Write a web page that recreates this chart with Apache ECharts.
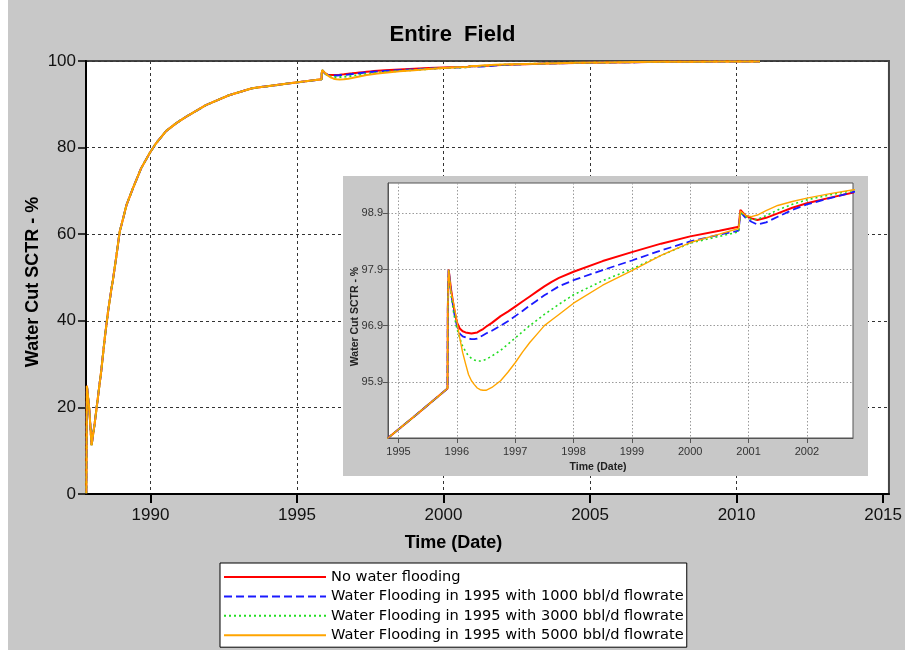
<!DOCTYPE html>
<html><head><meta charset="utf-8">
<script src="https://cdn.jsdelivr.net/npm/echarts@6/dist/echarts.min.js"></script>
<style>html,body{margin:0;padding:0;background:#c8c8c8}#c{width:905px;height:650px}</style>
</head><body><div id="c"></div><script>
const seriesNames = [
  'No water flooding',
  'Water Flooding in 1995 with 1000 bbl/d flowrate',
  'Water Flooding in 1995 with 3000 bbl/d flowrate',
  'Water Flooding in 1995 with 5000 bbl/d flowrate'
];
// shared history (all cases identical before water flooding starts)
const historyYears = [1987.81, 1987.83, 1987.91, 1987.99, 1988.1, 1988.16, 1988.33, 1988.44, 1988.55, 1988.67, 1988.72, 1988.84, 1988.95, 1989.01, 1989.18, 1989.4, 1989.68, 1989.97, 1990.19, 1990.53, 1990.87, 1991.21, 1991.89, 1992.68, 1993.47, 1994.82, 1995.3, 1995.84];
const historyValues = [0.2, 25, 19.8, 11.3, 16.5, 19.8, 29, 36, 42, 47.5, 49.5, 55.1, 60.6, 62.1, 66.7, 70.6, 75.2, 78.7, 81.0, 83.8, 85.6, 87.1, 89.8, 92.1, 93.7, 94.9, 95.31, 95.78];
// later period, per case
const laterYears = [1995.845, 1995.86, 1995.9, 1995.95, 1996.0, 1996.05, 1996.1, 1996.15, 1996.2, 1996.25, 1996.3, 1996.35, 1996.4, 1996.45, 1996.5, 1996.6, 1996.75, 1996.875, 1997.0, 1997.125, 1997.25, 1997.375, 1997.5, 1997.625, 1997.75, 1998.0, 1998.5, 1999.0, 1999.5, 2000.0, 2000.5, 2000.83, 2000.86, 2000.95, 2001.05, 2001.15, 2001.3, 2001.5, 2001.75, 2002.0, 2002.4, 2002.8, 2003.5, 2004.5, 2005.5, 2006.5, 2007.5, 2008.5, 2009.5, 2010.8];
const noFloodValues = [97.2, 97.9, 97.55, 97.22, 96.96, 96.85, 96.8, 96.78, 96.77, 96.76, 96.77, 96.78, 96.81, 96.84, 96.88, 96.95, 97.07, 97.15, 97.24, 97.33, 97.42, 97.51, 97.6, 97.68, 97.75, 97.86, 98.05, 98.21, 98.36, 98.49, 98.59, 98.66, 98.96, 98.86, 98.81, 98.78, 98.82, 98.9, 99.0, 99.08, 99.18, 99.27, 99.42, 99.56, 99.66, 99.74, 99.8, 99.84, 99.88, 99.9];
const flood1000Values = [97.2, 97.9, 97.5, 97.15, 96.9, 96.76, 96.71, 96.69, 96.67, 96.66, 96.66, 96.67, 96.7, 96.73, 96.76, 96.81, 96.9, 96.98, 97.07, 97.16, 97.26, 97.35, 97.44, 97.52, 97.6, 97.71, 97.89, 98.06, 98.24, 98.4, 98.52, 98.59, 98.92, 98.82, 98.75, 98.7, 98.74, 98.84, 98.96, 99.06, 99.17, 99.28, 99.42, 99.55, 99.65, 99.73, 99.79, 99.84, 99.87, 99.9];
const flood3000Values = [97.2, 97.9, 97.45, 97.1, 96.85, 96.68, 96.53, 96.44, 96.36, 96.32, 96.29, 96.27, 96.27, 96.28, 96.3, 96.36, 96.46, 96.57, 96.68, 96.79, 96.9, 97.0, 97.1, 97.19, 97.28, 97.45, 97.7, 97.91, 98.15, 98.37, 98.49, 98.57, 98.92, 98.84, 98.79, 98.79, 98.86, 98.96, 99.06, 99.14, 99.23, 99.31, 99.44, 99.57, 99.66, 99.74, 99.8, 99.84, 99.87, 99.9];
const flood5000Values = [97.2, 97.9, 97.5, 97.27, 96.98, 96.68, 96.42, 96.22, 96.03, 95.92, 95.85, 95.79, 95.76, 95.75, 95.75, 95.8, 95.92, 96.07, 96.24, 96.43, 96.6, 96.75, 96.9, 97.0, 97.1, 97.3, 97.62, 97.88, 98.15, 98.38, 98.53, 98.63, 98.94, 98.86, 98.84, 98.87, 98.95, 99.04, 99.11, 99.17, 99.25, 99.32, 99.45, 99.58, 99.67, 99.75, 99.81, 99.85, 99.88, 99.91];
const mainXTicks = [1990, 1995, 2000, 2005, 2010, 2015];
const mainXGridLines = [1990, 1995, 2000, 2005, 2010];
const insetXTicks = [1995, 1996, 1997, 1998, 1999, 2000, 2001, 2002];
const insetYTicks = [95.9, 96.9, 97.9, 98.9];

const FONT = 'Liberation Sans, Arial, sans-serif';
const colors = ['#ff0000', '#1a1aff', '#22dd22', '#ffa500'];
const dashes = ['solid', [8, 4], [2, 3], 'solid'];
const insetWidths = [2, 1.8, 1.6, 1.4];
const caseValues = [noFloodValues, flood1000Values, flood3000Values, flood5000Values];

function buildPairs(vals) {
  return historyYears.map((y, i) => [y, historyValues[i]])
    .concat(laterYears.map((y, i) => [y, vals[i]]));
}

const series = [];
caseValues.forEach((vals, i) => {
  series.push({
    name: seriesNames[i], type: 'line', xAxisIndex: 0, yAxisIndex: 0,
    data: buildPairs(vals), symbol: 'none', z: 2 + i * 0.1,
    lineStyle: { color: colors[i], width: 2, type: dashes[i] }, itemStyle: { color: colors[i] }
  });
});
caseValues.forEach((vals, i) => {
  series.push({
    name: seriesNames[i], type: 'line', xAxisIndex: 2, yAxisIndex: 1,
    data: buildPairs(vals), symbol: 'none', z: 13 + i * 0.1, clip: true,
    lineStyle: { color: colors[i], width: insetWidths[i], type: dashes[i] }, itemStyle: { color: colors[i] }
  });
});

const chart = echarts.init(document.getElementById('c'), null, { renderer: 'canvas' });
chart.setOption({
  backgroundColor: '#c8c8c8',
  animation: false,
  textStyle: { fontFamily: FONT },
  title: {
    text: 'Entire  Field', left: 'center', top: 24, padding: 0,
    textStyle: { fontFamily: FONT, fontWeight: 'bold', fontSize: 22, color: '#000' }
  },
  graphic: [
    { type: 'rect', shape: { x: 0, y: 0, width: 8, height: 650 }, style: { fill: '#fff' }, z: 1 },
    { type: 'rect', shape: { x: 343, y: 176, width: 525, height: 300 }, style: { fill: '#c8c8c8' }, z: 10 }
  ],
  legend: {
    data: seriesNames, orient: 'vertical', left: 220, top: 563, bottom: 0,
    itemWidth: 102, itemHeight: 14, itemGap: 4.4,
    backgroundColor: '#fff', borderColor: '#000', borderWidth: 1, borderRadius: 0,
    padding: [6.5, 3, 4.5, 3], selectedMode: false, z: 20,
    itemStyle: { opacity: 0 },
    textStyle: { fontFamily: 'DejaVu Sans', fontSize: 14.6, lineHeight: 14, color: '#000' }
  },
  grid: [
    { left: 86, top: 61, right: 11, bottom: 156, show: true, backgroundColor: '#fff', borderColor: '#444', borderWidth: 2, z: 0 },
    { left: 388, top: 183, right: 52, bottom: 212, show: true, backgroundColor: '#fff', borderColor: '#555', borderWidth: 1, z: 11 }
  ],
  xAxis: [
    {
      gridIndex: 0, type: 'value', min: 1987.8, max: 2015.2, z: 1,
      axisLine: { show: true, onZero: false, lineStyle: { color: '#000', width: 2 } },
      axisTick: { show: true, length: 9, customValues: mainXTicks, lineStyle: { color: '#000', width: 2 } },
      axisLabel: { customValues: mainXTicks, formatter: v => String(Math.round(v)), fontFamily: FONT, fontSize: 17, color: '#111', margin: 13 },
      splitLine: { show: false },
      name: 'Time (Date)', nameLocation: 'middle', nameGap: 40,
      nameTextStyle: { fontFamily: FONT, fontWeight: 'bold', fontSize: 18, color: '#000', padding: [0, 68, 0, 0] }
    },
    {
      gridIndex: 0, type: 'value', min: 1987.8, max: 2015.2, position: 'bottom', z: 0,
      axisLine: { show: false }, axisLabel: { show: false },
      axisTick: { show: false, customValues: mainXGridLines },
      splitLine: { show: true, lineStyle: { color: '#333', width: 1, type: [3, 3] } }
    },
    {
      gridIndex: 1, type: 'value', min: 1994.82, max: 2002.79, z: 12,
      axisLine: { show: true, onZero: false, lineStyle: { color: '#555', width: 1 } },
      axisTick: { show: true, length: 5, customValues: insetXTicks, lineStyle: { color: '#555', width: 1 } },
      axisLabel: { customValues: insetXTicks, formatter: v => String(Math.round(v)), fontFamily: FONT, fontSize: 11, color: '#333', margin: 8 },
      splitLine: { show: true, lineStyle: { color: '#9a9a9a', width: 1, type: [1.5, 2] } },
      name: 'Time (Date)', nameLocation: 'middle', nameGap: 24,
      nameTextStyle: { fontFamily: FONT, fontWeight: 'bold', fontSize: 10.5, color: '#222', padding: [0, 45, 0, 0] }
    }
  ],
  yAxis: [
    {
      gridIndex: 0, type: 'value', min: 0, max: 100, interval: 20, z: 1,
      axisLine: { show: true, lineStyle: { color: '#000', width: 2 } },
      axisTick: { show: true, length: 8, lineStyle: { color: '#000', width: 1.5 } },
      axisLabel: { fontFamily: FONT, fontSize: 17, color: '#111', margin: 10 },
      splitLine: { show: true, lineStyle: { color: '#333', width: 1, type: [3, 3] } },
      name: 'Water Cut SCTR - %', nameLocation: 'middle', nameGap: 44, nameMoveOverlap: false,
      nameTextStyle: { fontFamily: FONT, fontWeight: 'bold', fontSize: 18, color: '#000', padding: [0, 9, 0, 0] }
    },
    {
      gridIndex: 1, type: 'value', min: 94.9, max: 99.44, z: 12,
      axisLine: { show: true, lineStyle: { color: '#555', width: 1 } },
      axisTick: { show: true, length: 5, customValues: insetYTicks, lineStyle: { color: '#555', width: 1 } },
      axisLabel: { customValues: insetYTicks, formatter: v => v.toFixed(1), fontFamily: FONT, fontSize: 11, color: '#333', margin: 5 },
      splitLine: { show: true, lineStyle: { color: '#9a9a9a', width: 1, type: [1.5, 2] } },
      name: 'Water Cut SCTR - %', nameLocation: 'middle', nameGap: 27, nameMoveOverlap: false,
      nameTextStyle: { fontFamily: FONT, fontWeight: 'bold', fontSize: 10.5, color: '#222', padding: [0, 12, 0, 0] }
    }
  ],
  series: series
});
</script></body></html>
